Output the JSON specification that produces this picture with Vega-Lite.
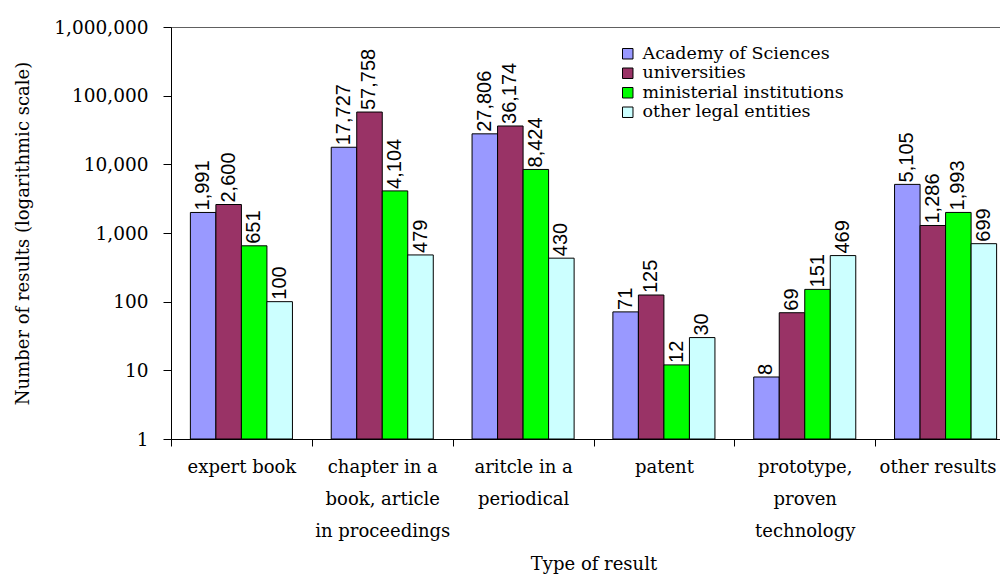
{
  "$schema": "https://vega.github.io/schema/vega-lite/v6.json",
  "width": 845,
  "height": 412,
  "padding": {"left": 14, "top": 18, "right": 0, "bottom": 5},
  "background": "white",
  "config": {
    "view": {"stroke": "#606060", "strokeWidth": 1},
    "font": "DejaVu Serif",
    "axis": {
      "labelFont": "DejaVu Serif",
      "titleFont": "DejaVu Serif",
      "labelColor": "#000000",
      "titleColor": "#000000",
      "domainColor": "#000000",
      "tickColor": "#000000",
      "grid": false,
      "titleFontWeight": "normal"
    }
  },
  "data": {
    "values": [
      {"type": "expert book", "sector": "Academy of Sciences", "count": 1991},
      {"type": "expert book", "sector": "universities", "count": 2600},
      {"type": "expert book", "sector": "ministerial institutions", "count": 651},
      {"type": "expert book", "sector": "other legal entities", "count": 100},
      {"type": "chapter in a\nbook, article\nin proceedings", "sector": "Academy of Sciences", "count": 17727},
      {"type": "chapter in a\nbook, article\nin proceedings", "sector": "universities", "count": 57758},
      {"type": "chapter in a\nbook, article\nin proceedings", "sector": "ministerial institutions", "count": 4104},
      {"type": "chapter in a\nbook, article\nin proceedings", "sector": "other legal entities", "count": 479},
      {"type": "aritcle in a\nperiodical", "sector": "Academy of Sciences", "count": 27806},
      {"type": "aritcle in a\nperiodical", "sector": "universities", "count": 36174},
      {"type": "aritcle in a\nperiodical", "sector": "ministerial institutions", "count": 8424},
      {"type": "aritcle in a\nperiodical", "sector": "other legal entities", "count": 430},
      {"type": "patent", "sector": "Academy of Sciences", "count": 71},
      {"type": "patent", "sector": "universities", "count": 125},
      {"type": "patent", "sector": "ministerial institutions", "count": 12},
      {"type": "patent", "sector": "other legal entities", "count": 30},
      {"type": "prototype,\nproven\ntechnology", "sector": "Academy of Sciences", "count": 8},
      {"type": "prototype,\nproven\ntechnology", "sector": "universities", "count": 69},
      {"type": "prototype,\nproven\ntechnology", "sector": "ministerial institutions", "count": 151},
      {"type": "prototype,\nproven\ntechnology", "sector": "other legal entities", "count": 469},
      {"type": "other results", "sector": "Academy of Sciences", "count": 5105},
      {"type": "other results", "sector": "universities", "count": 1286},
      {"type": "other results", "sector": "ministerial institutions", "count": 1993},
      {"type": "other results", "sector": "other legal entities", "count": 699}
    ]
  },
  "encoding": {
    "x": {
      "field": "type",
      "type": "nominal",
      "sort": null,
      "scale": {"paddingInner": 0, "paddingOuter": 0},
      "axis": {
        "title": "Type of result",
        "labelAngle": 0,
        "labelFontSize": 18,
        "labelLineHeight": 32,
        "labelPadding": 12,
        "labelBaseline": "top",
        "labelExpr": "split(datum.label, '\\n')",
        "labelOffset": {"condition": {"test": "datum.value === 'other results'", "value": -8}, "value": 0},
        "tickBand": "extent",
        "tickSize": 7,
        "titleFontSize": 18,
        "titlePadding": 15
      }
    },
    "xOffset": {
      "field": "sector",
      "type": "nominal",
      "sort": ["Academy of Sciences", "universities", "ministerial institutions", "other legal entities"],
      "scale": {"paddingInner": 0, "paddingOuter": 0.76}
    },
    "y": {
      "field": "count",
      "type": "quantitative",
      "scale": {"type": "log", "domain": [1, 1000000]},
      "axis": {
        "title": "Number of results (logarithmic scale)",
        "values": [1, 10, 100, 1000, 10000, 100000, 1000000],
        "format": ",",
        "labelFontSize": 18.5,
        "tickSize": 8,
        "labelPadding": 15,
        "titleFontSize": 18,
        "titlePadding": 21
      }
    }
  },
  "layer": [
    {
      "mark": {"type": "bar", "stroke": "#000000", "strokeWidth": 1},
      "encoding": {
        "y2": {"datum": 1},
        "color": {
          "field": "sector",
          "type": "nominal",
          "scale": {
            "domain": ["Academy of Sciences", "universities", "ministerial institutions", "other legal entities"],
            "range": ["#9999FF", "#993366", "#00FF00", "#CCFFFF"]
          },
          "legend": {
            "orient": "none",
            "legendX": 448,
            "legendY": 18,
            "title": null,
            "symbolType": "square",
            "symbolSize": 110,
            "symbolStrokeColor": "#000000",
            "symbolStrokeWidth": 1,
            "labelFont": "DejaVu Serif",
            "labelFontSize": 17.5,
            "labelColor": "#000000",
            "labelLimit": 300,
            "labelOffset": 6,
            "rowPadding": 0.5
          }
        }
      }
    },
    {
      "mark": {
        "type": "text",
        "angle": 270,
        "align": "left",
        "baseline": "middle",
        "dx": 2,
        "font": "Liberation Sans",
        "fontSize": 20,
        "color": "#000000"
      },
      "encoding": {
        "text": {"field": "count", "type": "quantitative", "format": ","}
      }
    }
  ]
}
